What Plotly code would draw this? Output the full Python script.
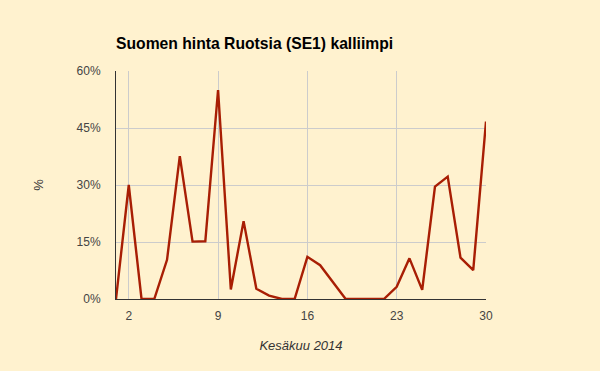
import plotly.graph_objects as go

days = list(range(1, 31))
values = [0, 30.0, 0, 0, 10.3, 37.6, 15.1, 15.2, 55.0, 2.5,
          20.5, 2.7, 0.9, 0, 0, 11.1, 8.9, 4.5, 0, 0,
          0, 0, 3.2, 10.7, 2.4, 29.6, 32.2, 10.9, 7.6, 46.7]
x_ticks = [2, 9, 16, 23, 30]
y_ticks = [0, 15, 30, 45, 60]
y_tick_labels = ["0%", "15%", "30%", "45%", "60%"]

bg = "#FFF2CF"
font_family = "Liberation Sans, Arial, sans-serif"

fig = go.Figure()
fig.add_trace(go.Scatter(
    x=days, y=values, mode="lines",
    line=dict(color="#A81E04", width=2.4),
    hoverinfo="x+y",
))

fig.update_layout(
    width=600, height=371,
    margin=dict(l=116, r=114, t=71, b=72),
    paper_bgcolor=bg, plot_bgcolor=bg,
    showlegend=False,
    font=dict(family=font_family, size=12, color="#444444"),
    title=dict(
        text="<b>Suomen hinta Ruotsia (SE1) kalliimpi</b>",
        x=0, xanchor="left", xref="paper",
        y=1 - 44/371, yanchor="middle",
        font=dict(family=font_family, size=15.7, color="#000000"),
    ),
    xaxis=dict(
        range=[1, 30], tickvals=x_ticks, ticktext=[str(v) for v in x_ticks],
        showgrid=True, gridcolor="#CCCCCC", gridwidth=1,
        zeroline=False, showline=True, linecolor="#333333", linewidth=1,
        ticks="", ticklabelstandoff=6,
        tickfont=dict(size=12, color="#444444"),
        title=dict(text="<i>Kesäkuu 2014</i>", standoff=18,
                   font=dict(size=13, color="#333333")),
    ),
    yaxis=dict(
        range=[0, 60], tickvals=y_ticks, ticktext=y_tick_labels,
        showgrid=True, gridcolor="#CCCCCC", gridwidth=1,
        zeroline=False, showline=True, linecolor="#333333", linewidth=1,
        ticks="", ticklabelstandoff=12,
        tickfont=dict(size=12, color="#444444"),
        title=dict(text="%", standoff=30,
                   font=dict(size=13, color="#333333")),
    ),
)

fig.write_html("out.html")
